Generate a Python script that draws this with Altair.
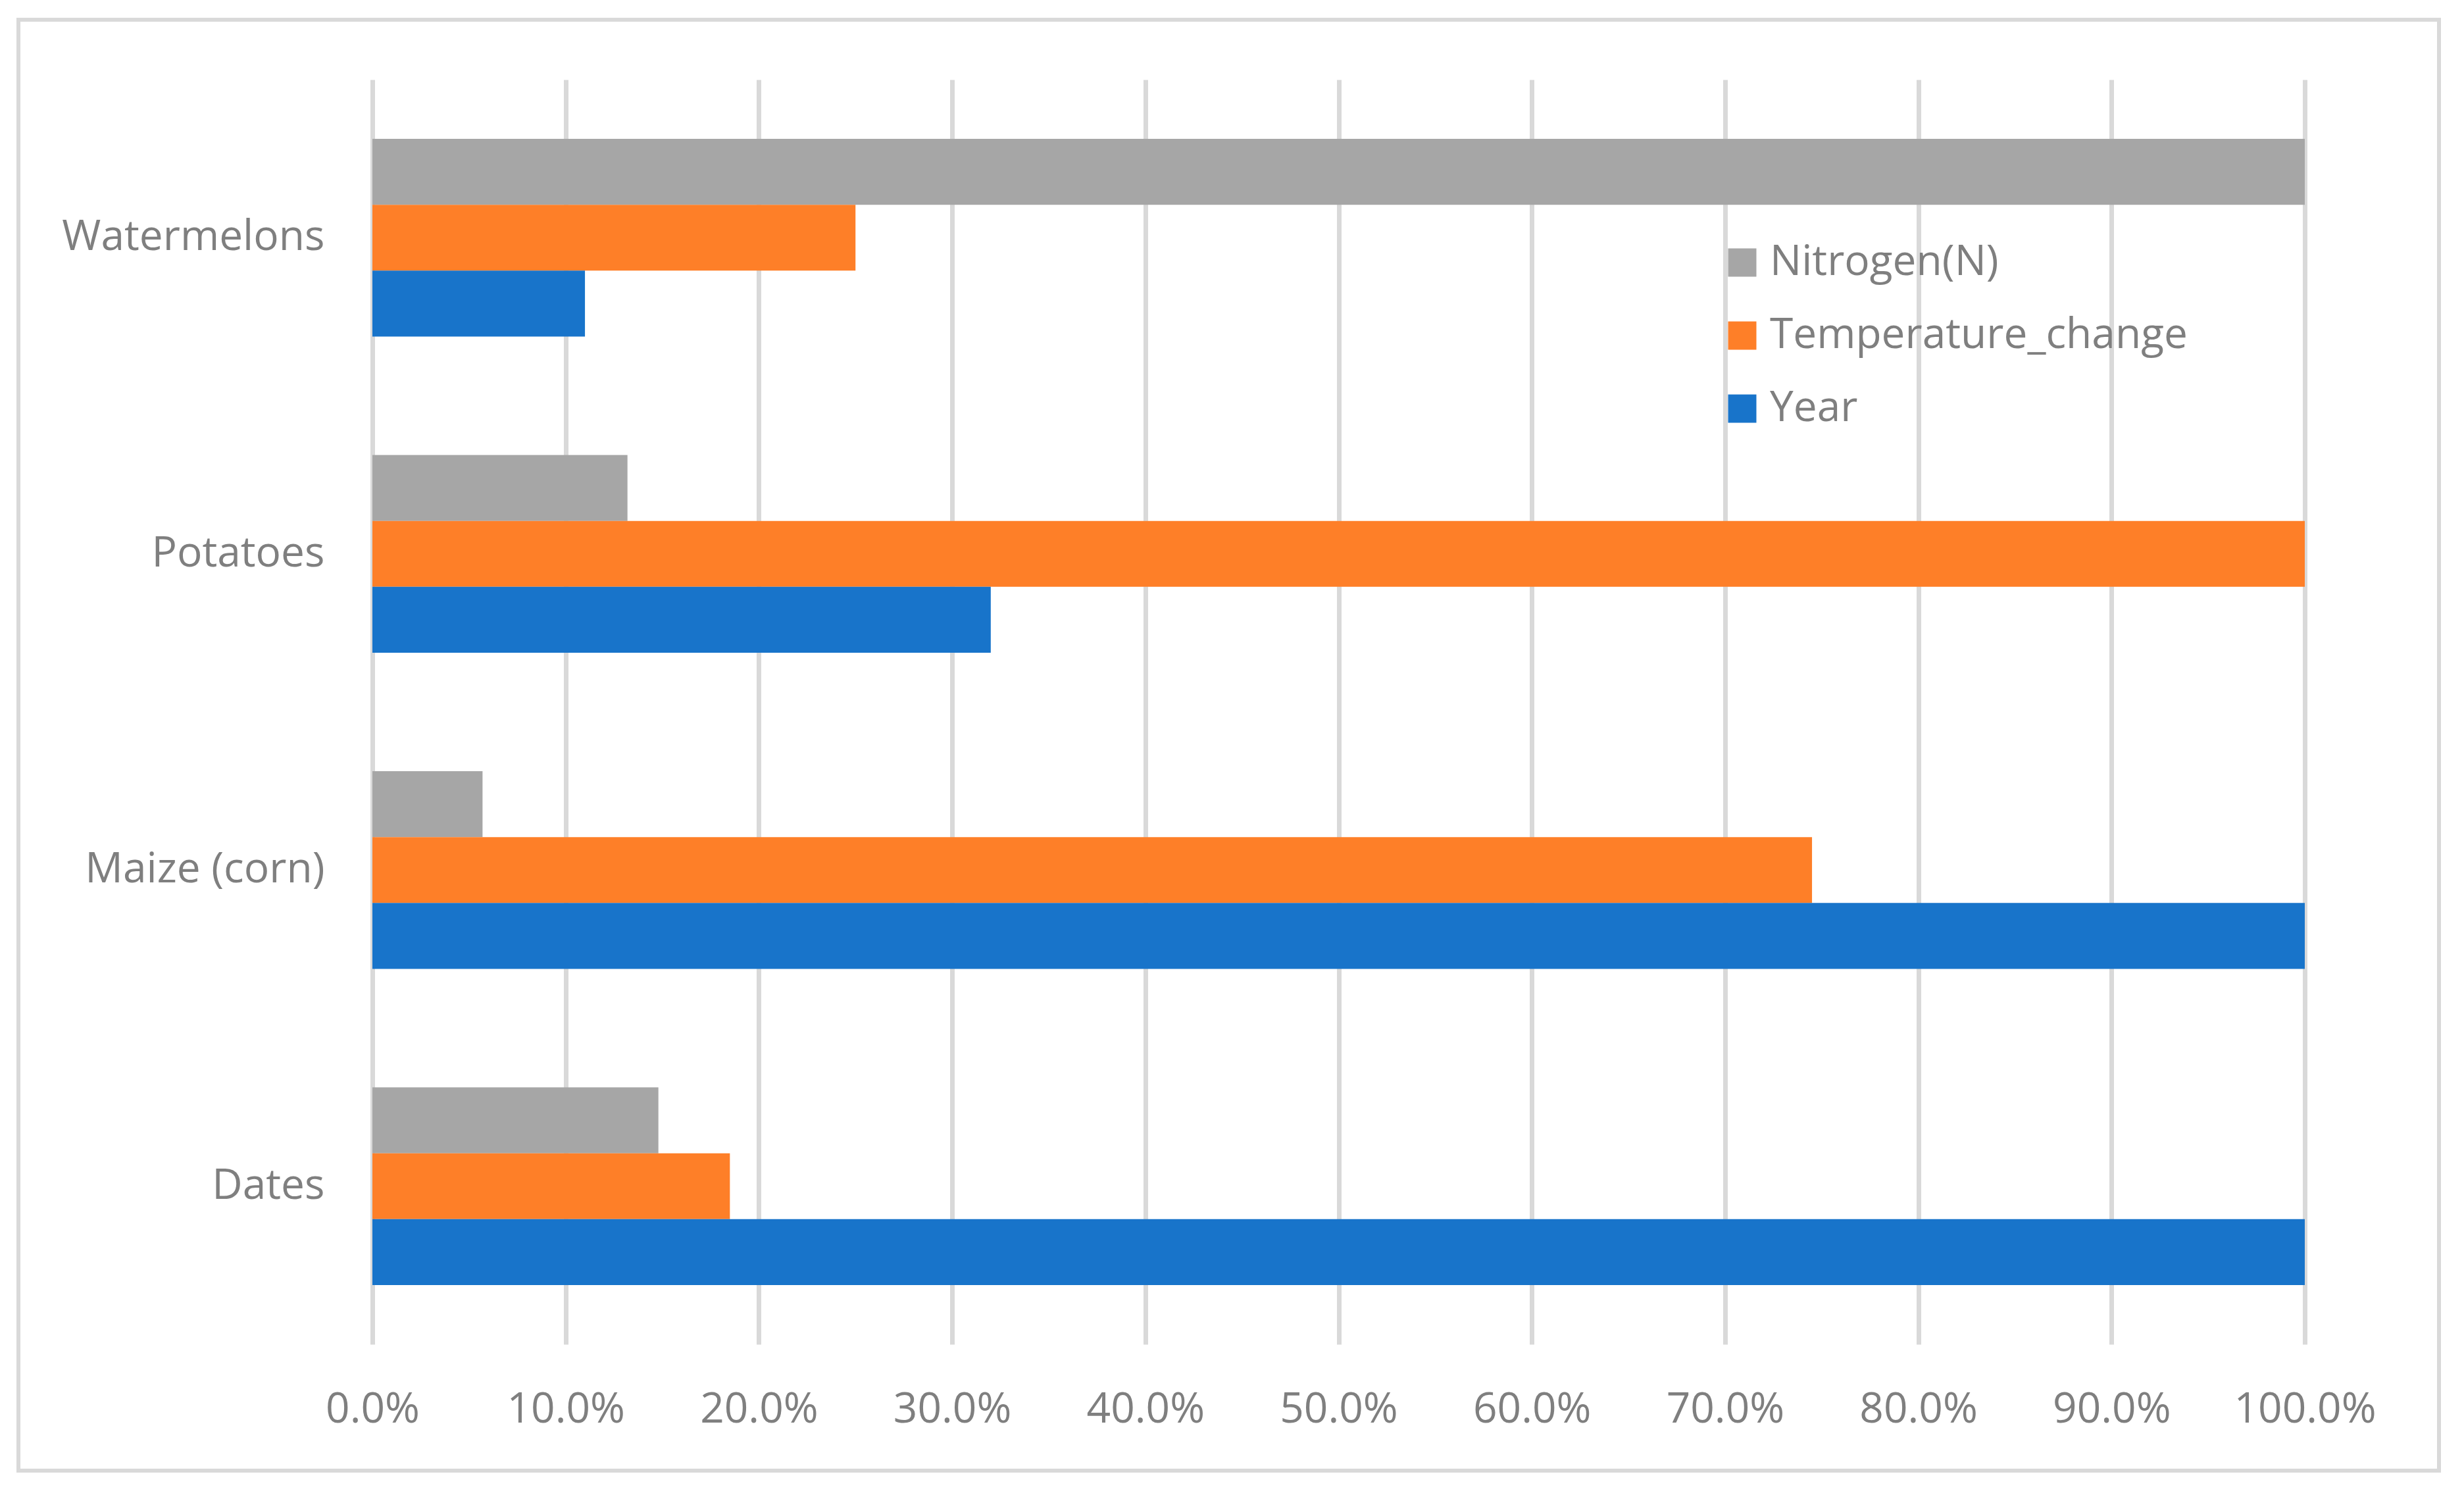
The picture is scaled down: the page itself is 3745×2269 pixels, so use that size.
import altair as alt
import pandas as pd

crops = ["Watermelons", "Potatoes", "Maize (corn)", "Dates"]
series = ["Nitrogen(N)", "Temperature_change", "Year"]
nitrogen = [1.0, 0.132, 0.057, 0.148]
temperature = [0.25, 1.0, 0.745, 0.185]
year = [0.11, 0.32, 1.0, 1.0]
colors = ["#a6a6a6", "#fe7f28", "#1874ca"]
x_ticks = [0.0, 0.1, 0.2, 0.3, 0.4, 0.5, 0.6, 0.7, 0.8, 0.9, 1.0]

rows = []
for i, c in enumerate(crops):
    for s, vals in zip(series, [nitrogen, temperature, year]):
        rows.append({"crop": c, "series": s, "value": vals[i]})
df = pd.DataFrame(rows)

W, H = 2937, 1922
FONT = "Open Sans"
GREY = "#7f7f7f"

bars = alt.Chart(df).mark_bar().encode(
    x=alt.X("value:Q",
            scale=alt.Scale(domain=[0, 1], nice=False, zero=True),
            axis=alt.Axis(values=x_ticks, format=".1%", title=None,
                          grid=True, gridColor="#d9d9d9", gridWidth=7,
                          domain=False, ticks=False, labelPadding=118,
                          labelBaseline="alphabetic", labelFontSize=64,
                          labelColor=GREY, labelFont=FONT, labelLimit=0,
                          labelFlush=False, labelOverlap=False)),
    y=alt.Y("crop:N", sort=crops,
            scale=alt.Scale(paddingInner=0.375, paddingOuter=0.1875),
            axis=alt.Axis(title=None, domain=False, ticks=False, grid=False,
                          labelPadding=73, labelFontSize=64, labelColor=GREY,
                          labelFont=FONT, labelLimit=0)),
    yOffset=alt.YOffset("series:N", sort=series,
                        scale=alt.Scale(paddingInner=0, paddingOuter=0)),
    color=alt.Color("series:N", sort=series,
                    scale=alt.Scale(domain=series, range=colors),
                    legend=alt.Legend(title=None, orient="none",
                                      legendX=2050, legendY=246,
                                      symbolType="square", symbolSize=1849,
                                      symbolStrokeWidth=0, labelFontSize=64,
                                      labelColor=GREY, labelFont=FONT,
                                      labelOffset=10, rowPadding=47,
                                      labelLimit=0, padding=0)),
)

border = alt.Chart(pd.DataFrame({"k": [0]})).mark_rect(
    fill=None, stroke="#d9d9d9", strokeWidth=6
).encode(
    x=alt.value(-538), x2=alt.value(3141),
    y=alt.value(-91), y2=alt.value(2114),
)

chart = alt.layer(border, bars).properties(
    width=W, height=H,
    autosize=alt.AutoSizeParams(type="none"),
    padding={"left": 558, "top": 113, "right": 220, "bottom": 200},
    view=alt.ViewBackground(stroke="transparent", strokeOpacity=0),
).configure_view(stroke="transparent", strokeOpacity=0).configure(font=FONT)

chart.save("out.html", embed_options={"renderer": "svg", "actions": False})
